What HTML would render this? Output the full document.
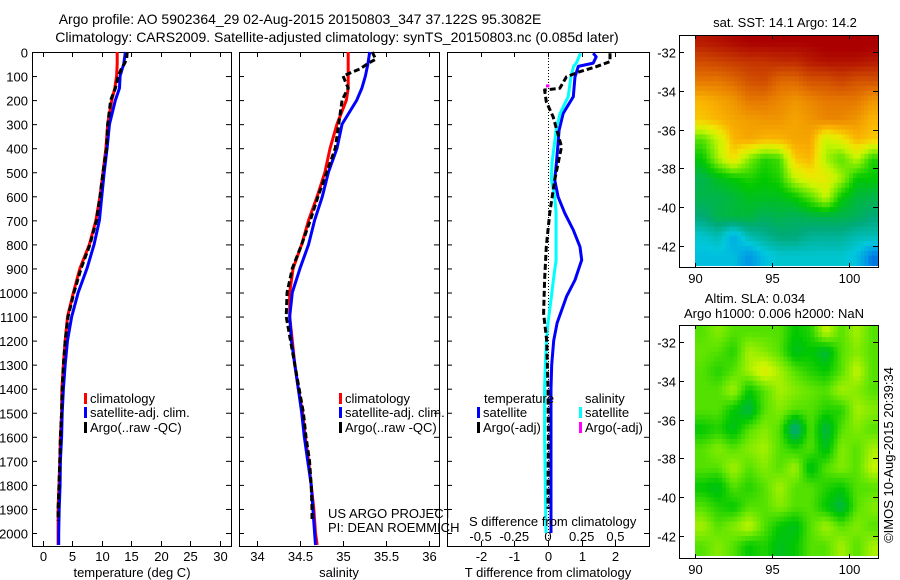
<!DOCTYPE html>
<html><head><meta charset="utf-8"><style>
html,body{margin:0;padding:0;background:#fff;}
svg{display:block;font-family:"Liberation Sans",sans-serif;}
text{font-size:13px;fill:#000;}
</style></head><body>
<svg id="c" width="900" height="580" viewBox="0 0 900 580" xmlns="http://www.w3.org/2000/svg">
<text x="300" y="24" text-anchor="middle" style="font-size:14px">Argo profile: AO 5902364_29 02-Aug-2015 20150803_347 37.122S 95.3082E</text>
<text x="337" y="42" text-anchor="middle" style="font-size:14px">Climatology: CARS2009. Satellite-adjusted climatology: synTS_20150803.nc (0.085d later)</text>
<g id="g"></g>
</svg>
<script>
// ---- data ----
const depths=[0,50,100,150,200,300,400,500,600,700,800,900,1000,1100,1200,1300,1400,1500,1600,1700,1800,1900,2000,2050];
const tempClim=[12.6,12.6,12.5,12.2,11.7,11.0,10.7,10.2,9.7,9.0,7.9,6.3,5.2,4.2,3.8,3.5,3.25,3.2,3.0,2.9,2.75,2.6,2.6,2.6];
const tempSat=[14.0,13.7,13.1,13.0,12.3,11.3,10.9,10.4,10.0,9.6,8.7,7.5,6.0,4.9,4.2,3.8,3.5,3.3,3.2,3.0,2.95,2.8,2.7,2.7];
const argoDepths=[0,30,50,70,100,150,200,300,400,500,600,700,800,900,1000,1100,1200,1300,1400,1500,1600,1700,1800,1900,1950];
const tempArgo=[14.3,14.2,13.8,13.3,12.8,12.3,11.5,11.0,10.8,10.2,9.7,9.1,8.0,6.5,5.3,4.3,3.8,3.5,3.3,3.2,3.0,2.9,2.75,2.6,2.6];
const salClim=[35.06,35.06,35.06,35.06,35.04,34.93,34.85,34.79,34.7,34.6,34.52,34.42,34.38,34.38,34.41,34.44,34.48,34.53,34.56,34.6,34.63,34.66,34.68,34.7];
const salSat=[35.31,35.29,35.26,35.22,35.16,34.99,34.93,34.83,34.76,34.67,34.6,34.5,34.41,34.38,34.4,34.44,34.48,34.52,34.55,34.59,34.63,34.65,34.67,34.68];
const salArgo=[35.34,35.38,35.28,35.2,35.0,35.06,34.99,34.95,34.91,34.81,34.71,34.62,34.52,34.41,34.35,34.34,34.39,34.44,34.49,34.54,34.57,34.61,34.63,34.64,34.64];
const diffDepths=[5,20,46,60,103,186,255,325,462,532,602,671,740,810,865,948,1017,1127,1200,1300,1400,1600,1800,2000];
const dTsat=[1.34,1.43,1.34,0.9,0.8,0.75,0.45,0.33,0.25,0.2,0.3,0.5,0.75,0.95,1.0,0.8,0.55,0.27,0.17,0.11,0.09,0.09,0.09,0.09];
const dSsat=[0.24,0.23,0.21,0.19,0.17,0.15,0.09,0.06,0.03,0.025,0.05,0.06,0.06,0.06,0.06,0.04,0.025,0.0,-0.012,-0.02,-0.025,-0.025,-0.02,-0.015];
const dTargoDepths=[5,40,61,82,103,151,158,207,269,394,463,532,671,810,948,1087,1200,1400,1600,1900];
const dTargo=[1.84,1.84,1.43,0.94,0.55,0.35,-0.1,-0.05,0.15,0.4,0.3,0.2,0.05,-0.05,-0.1,-0.13,-0.04,0,0.01,0];
const depthTicks=[0,100,200,300,400,500,600,700,800,900,1000,1100,1200,1300,1400,1500,1600,1700,1800,1900,2000];
const tempTicks=[0,5,10,15,20,25,30];
const salTicks=[34,34.5,35,35.5,36];
const salTickLabels=["34","34.5","35","35.5","36"];
const dTTicks=[-2,-1,0,1,2];
const dSTicks=[-0.5,-0.25,0,0.25,0.5];
const dSTickLabels=["-0.5","-0.25","0","0.25","0.5"];
const latTicks=[-32,-34,-36,-38,-40,-42];
const lonTicks=[90,95,100];
const sst=[
[0.92,0.93,0.94,0.95,0.95,0.95,0.95,0.95,0.96,0.96,0.96,0.96],
[0.86,0.87,0.88,0.89,0.89,0.9,0.9,0.92,0.93,0.93,0.93,0.92],
[0.8,0.8,0.82,0.85,0.86,0.82,0.82,0.85,0.85,0.87,0.85,0.85],
[0.72,0.74,0.76,0.8,0.8,0.78,0.76,0.78,0.8,0.8,0.8,0.76],
[0.7,0.72,0.74,0.75,0.76,0.76,0.74,0.76,0.78,0.78,0.76,0.72],
[0.55,0.62,0.72,0.74,0.72,0.72,0.74,0.74,0.62,0.66,0.72,0.7],
[0.5,0.6,0.68,0.58,0.52,0.54,0.7,0.72,0.6,0.55,0.62,0.52],
[0.45,0.48,0.5,0.52,0.5,0.52,0.62,0.66,0.66,0.6,0.5,0.5],
[0.45,0.45,0.46,0.48,0.48,0.48,0.5,0.55,0.62,0.5,0.46,0.45],
[0.42,0.45,0.46,0.46,0.44,0.45,0.44,0.45,0.45,0.45,0.44,0.42],
[0.36,0.38,0.32,0.38,0.4,0.42,0.42,0.4,0.4,0.4,0.38,0.38],
[0.34,0.34,0.34,0.3,0.34,0.36,0.36,0.36,0.36,0.36,0.34,0.28]];
const sla=[
[0.55,0.58,0.55,0.55,0.55,0.55,0.5,0.52,0.62,0.55,0.6,0.55],
[0.56,0.55,0.52,0.6,0.58,0.55,0.48,0.5,0.46,0.55,0.58,0.55],
[0.55,0.52,0.55,0.6,0.65,0.6,0.55,0.52,0.5,0.55,0.62,0.55],
[0.55,0.55,0.6,0.5,0.55,0.6,0.58,0.56,0.55,0.6,0.58,0.55],
[0.55,0.55,0.5,0.45,0.55,0.58,0.55,0.55,0.52,0.52,0.6,0.58],
[0.5,0.52,0.48,0.55,0.58,0.55,0.4,0.55,0.45,0.55,0.58,0.55],
[0.55,0.58,0.55,0.58,0.6,0.55,0.52,0.55,0.48,0.58,0.55,0.6],
[0.55,0.55,0.6,0.55,0.58,0.55,0.6,0.48,0.55,0.58,0.55,0.62],
[0.5,0.48,0.55,0.52,0.55,0.6,0.55,0.55,0.52,0.5,0.55,0.55],
[0.55,0.52,0.5,0.55,0.55,0.58,0.55,0.55,0.5,0.45,0.55,0.58],
[0.6,0.55,0.58,0.62,0.55,0.5,0.48,0.55,0.6,0.55,0.58,0.55],
[0.55,0.58,0.55,0.5,0.52,0.48,0.5,0.55,0.55,0.6,0.55,0.6]];

// ---- scales ----
const NS="http://www.w3.org/2000/svg";
const G=document.getElementById('g');
const top0=52, bot=546;
const yD=d=>top0+d*0.2405;
const xT=t=>42.7+t*5.91;
const xS=s=>257+(s-34)*86;
const xDT=t=>548+t*33.7;
const xDS=s=>548+s*134.8;
const mapLat1=v=>52+(-32-v)*19.4;
const mapLat2=v=>342+(-32-v)*19.4;
const mapLon=v=>695+(v-90)*15.4;
function el(tag,a,p){const e=document.createElementNS(NS,tag);for(const k in a)e.setAttribute(k,a[k]);(p||G).appendChild(e);return e;}
function txt(x,y,s,anchor,extra){const t=el('text',Object.assign({x:x,y:y,'text-anchor':anchor||'start'},extra||{}));t.textContent=s;return t;}
function line(xs,ys,color,name,dash){const pts=xs.map((x,i)=>x.toFixed(1)+','+ys[i].toFixed(1)).join(' ');
 const p=el('polyline',{points:pts,fill:'none',stroke:color,'stroke-width':3,'stroke-linejoin':'round'});
 if(dash)p.setAttribute('stroke-dasharray',dash);
 
 return p;}
function box(x0,x1,y0,y1,name){const r=el('rect',{x:x0+.5,y:y0+.5,width:x1-x0,height:y1-y0,fill:'none',stroke:'#000','stroke-width':1});
 
 }

function profilePanel(x0,x1,name,labels){
 box(x0,x1,top0,bot,name+'-frame');
 depthTicks.forEach(d=>{const y=yD(d)+.5;el('line',{x1:x0,x2:x0+5,y1:y,y2:y,stroke:'#000'});el('line',{x1:x1-5,x2:x1,y1:y,y2:y,stroke:'#000'});
  if(labels){const t=txt(x0-4,y+5,String(d),'end');
   
   }});
}
function xticks(vals,fx,x0,x1,labels,ly,name){
 vals.forEach((v,i)=>{const x=Math.round(fx(v))+.5;el('line',{x1:x,x2:x,y1:top0,y2:top0+5,stroke:'#000'});el('line',{x1:x,x2:x,y1:bot-5,y2:bot,stroke:'#000'});
  if(labels){const t=txt(x,ly,labels[i],'middle');
   
   }});
}
profilePanel(32,231,'temperature-panel',true);
xticks(tempTicks,xT,32,231,tempTicks.map(String),561,'temperature-tick-label');
line(tempClim.map(xT),depths.map(yD),'#f00','temperature-climatology-line');
line(tempSat.map(xT),depths.map(yD),'#00f','temperature-satellite-line');
line(tempArgo.map(xT),argoDepths.map(yD),'#000','temperature-argo-line','6,3');
profilePanel(239,439,'salinity-panel',false);
xticks(salTicks,xS,239,439,salTickLabels,561,'salinity-tick-label');
line(salClim.map(xS),depths.map(yD),'#f00','salinity-climatology-line');
line(salSat.map(xS),depths.map(yD),'#00f','salinity-satellite-line');
line(salArgo.map(xS),argoDepths.map(yD),'#000','salinity-argo-line','6,3');
profilePanel(447,649,'difference-panel',false);
xticks(dTTicks,xDT,447,649,dTTicks.map(String),561,'t-difference-tick-label');
dSTicks.forEach((v,i)=>{const t=txt(xDS(v),541,dSTickLabels[i],'middle');
 
 });
el('line',{x1:548.5,x2:548.5,y1:top0,y2:bot,stroke:'#000','stroke-dasharray':'1,2'});
line(dTsat.map(xDT),diffDepths.map(yD),'#00f','t-diff-satellite-line');
line(dSsat.map(xDS),diffDepths.map(yD),'#0ff','s-diff-satellite-line');
line(dTargo.map(xDT),dTargoDepths.map(yD),'#000','t-diff-argo-line','6,3');
el('line',{x1:xDS(-0.015),x2:xDS(0.01),y1:yD(141),y2:yD(141),stroke:'#f0f','stroke-width':3});

function legend(x,y,color,label,name){el('rect',{x:x,y:y-10,width:3,height:11,fill:color});const t=txt(x+6,y,label);
 
 }
legend(84,403,'#f00','climatology','legend-climatology');
legend(84,417,'#00f','satellite-adj. clim.','legend-satellite');
legend(84,432,'#000','Argo(..raw -QC)','legend-argo');
legend(339,403,'#f00','climatology','legend-sal-climatology');
legend(339,417,'#00f','satellite-adj. clim.','legend-sal-satellite');
legend(339,432,'#000','Argo(..raw -QC)','legend-sal-argo');
txt(484,403,'temperature');txt(585,403,'salinity');
legend(477,417,'#00f','satellite','legend-t-satellite');
legend(477,432,'#000','Argo(-adj)','legend-t-argo');
legend(579,417,'#0ff','satellite','legend-s-satellite');
legend(579,432,'#f0f','Argo(-adj)','legend-s-argo');
txt(328,518,'US ARGO PROJECT');txt(328,532,'PI: DEAN ROEMMICH');
txt(469,526,'S difference from climatology');
txt(132,577,'temperature (deg C)','middle');txt(339,577,'salinity','middle');txt(548,577,'T difference from climatology','middle');

// maps
const cmapStops=[[0.2,[0,0,200]],[0.3,[0,150,230]],[0.35,[0,200,220]],[0.42,[0,170,120]],[0.5,[0,200,0]],[0.56,[100,230,0]],[0.62,[200,245,0]],[0.67,[240,230,0]],[0.72,[250,180,0]],[0.8,[230,120,0]],[0.88,[200,60,0]],[0.95,[170,0,0]]];
function cmap(v){if(v<=cmapStops[0][0])return 'rgb('+cmapStops[0][1]+')';
 for(let k=1;k<cmapStops.length;k++){if(v<=cmapStops[k][0]){const a=cmapStops[k-1],b=cmapStops[k],f=(v-a[0])/(b[0]-a[0]);
  return 'rgb('+a[1].map((c,i)=>Math.round(c+(b[1][i]-c)*f)).join(',')+')';}}
 return 'rgb('+cmapStops[cmapStops.length-1][1]+')';}
function sample(data,fi,fj){const R=data.length,C=data[0].length;
 fi=Math.max(0,Math.min(R-1,fi));fj=Math.max(0,Math.min(C-1,fj));
 const i0=Math.floor(fi),j0=Math.floor(fj),i1=Math.min(R-1,i0+1),j1=Math.min(C-1,j0+1),a=fi-i0,b=fj-j0;
 return data[i0][j0]*(1-a)*(1-b)+data[i0][j1]*(1-a)*b+data[i1][j0]*a*(1-b)+data[i1][j1]*a*b;}
function map(data,fLat,y0,y1,name){
 const rows=data.length,cols=data[0].length,sub=4;
 for(let i=0;i<rows*sub;i++)for(let j=0;j<cols*sub;j++){
  const v=sample(data,(i+0.5)/sub-0.5,(j+0.5)/sub-0.5);
  const xa=mapLon(90+j/sub),xb=mapLon(90+(j+1)/sub),ya=Math.max(y0,fLat(-31-i/sub)),yb=Math.min(y1,fLat(-31-(i+1)/sub));
  if(xa>=878||yb<=ya)continue;
  const r=el('rect',{x:xa.toFixed(1),y:ya.toFixed(1),width:(Math.min(xb,878)-xa+0.6).toFixed(1),height:(yb-ya+0.6).toFixed(1),fill:cmap(v)});
  
  }
 box(679,878,y0,y1,name+'-frame');
 latTicks.forEach(v=>{const y=Math.round(fLat(v))+.5;el('line',{x1:679,x2:684,y1:y,y2:y,stroke:'#000'});el('line',{x1:873,x2:878,y1:y,y2:y,stroke:'#000'});
  const t=txt(676,y+5,String(v),'end');
  
  });
 lonTicks.forEach(v=>{const x=Math.round(mapLon(v))+.5;el('line',{x1:x,x2:x,y1:y0,y2:y0+4,stroke:'#000'});el('line',{x1:x,x2:x,y1:y1-4,y2:y1,stroke:'#000'});
  const t=txt(x,y1+16,String(v),'middle');
  
  });
}
map(sst,mapLat1,35,267,'sst-map');
map(sla,mapLat2,325,558,'sla-map');
txt(785,27,'sat. SST: 14.1 Argo: 14.2','middle');
txt(755,303,'Altim. SLA: 0.034','middle');
txt(774,318,'Argo h1000: 0.006 h2000: NaN','middle');
txt(0,0,'©IMOS 10-Aug-2015 20:39:34','middle',{transform:'translate(893,455) rotate(-90)'});
</script>
</body></html>
